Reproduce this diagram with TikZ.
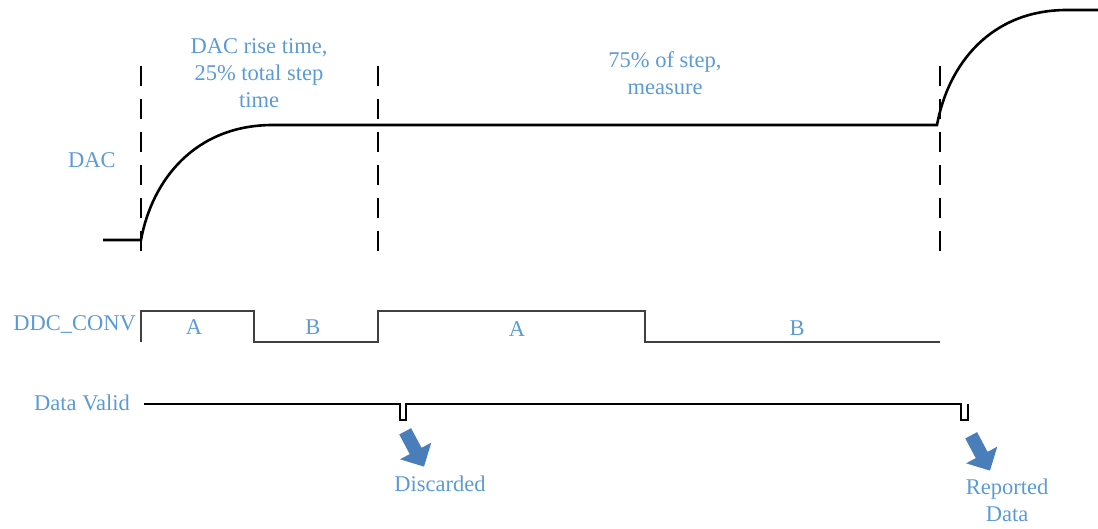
\documentclass[tikz,border=0pt]{standalone}
\usepackage{fontspec}
\setmainfont{Liberation Serif}
\usepackage{xcolor}
\usetikzlibrary{shapes.arrows}
\definecolor{labelblue}{RGB}{91,155,213}
\definecolor{markblue}{RGB}{74,126,187}
\definecolor{convgray}{RGB}{64,64,64}

\begin{document}
\begin{tikzpicture}[x=1pt,y=-1pt,
    lbl/.style={text=labelblue, font=\fontsize{22.5}{27}\selectfont, align=center, inner sep=0pt},
    dac/.style={line width=2.6pt, black},
    conv/.style={line width=2pt, convgray},
    valid/.style={line width=1.3pt, black},
    marker/.style={black, line width=1.2pt, dash pattern=on 20pt off 13pt},
    pointer/.style={single arrow, fill=markblue, draw=none, minimum height=40pt, inner xsep=0pt, inner ysep=6.5pt, single arrow head extend=11pt, rotate=-62}
]
\useasboundingbox (0,0) rectangle (1098,529);

\node[lbl] (rise) at (259,73) {DAC rise time,\\ 25\% total step\\ time};
\node[lbl] (measure) at (665,73.5) {75\% of step,\\ measure};
\node[lbl] (dac) at (92,160) {DAC};
\node[lbl, anchor=east] (conv) at (136,325) {DDC\_CONV};
\node[lbl, anchor=east] (valid) at (130,403) {Data Valid};

\foreach \x in {141,378,940}
    \draw[marker] (\x,66) -- (\x,260);

\draw[dac] (103,240) -- (141,240) .. controls (152,180) and (195,125) .. (273,125)
    -- (937,125) .. controls (948,65) and (990,10) .. (1067,10) -- (1098,10);

\draw[conv] (141,342) -- (141,311) -- (254,311) -- (254,342) -- (378,342) -- (378,311)
    -- (645,311) -- (645,342) -- (940,342);
\node[lbl] (a1) at (194,327) {A};
\node[lbl] (b1) at (313,327) {B};
\node[lbl] (a2) at (517,329) {A};
\node[lbl] (b2) at (797,328) {B};

\draw[valid] (144,404) -- (400,404) -- (400,420) -- (406,420) -- (406,404)
    -- (961,404) -- (961,420) -- (968,420) -- (968,404);

\node[pointer] (discard) at (413,446) {};
\node[pointer] (report) at (979,450) {};
\node[lbl] (discardtxt) at (440,484) {Discarded};
\node[lbl] (reporttxt) at (1007,500) {Reported\\ Data};

\end{tikzpicture}
\end{document}
